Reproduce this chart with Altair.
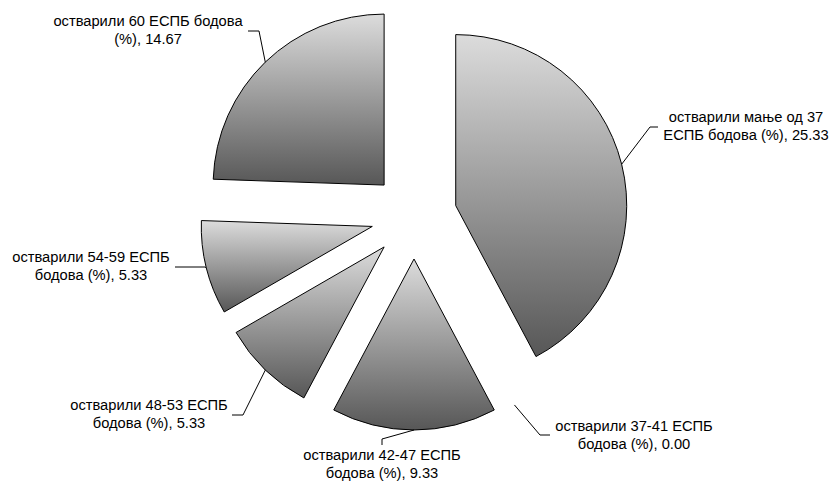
import altair as alt
import pandas as pd

# ---- data ----
categories = [
    "остварили мање од 37 ЕСПБ бодова (%)",
    "остварили 37-41 ЕСПБ бодова (%)",
    "остварили 42-47 ЕСПБ бодова (%)",
    "остварили 48-53 ЕСПБ бодова (%)",
    "остварили 54-59 ЕСПБ бодова (%)",
    "остварили 60 ЕСПБ бодова (%)",
]
values = [25.33, 0.00, 9.33, 5.33, 5.33, 14.67]

# ---- layout (plot-area pixels) ----
W, H = 822, 476
CX, CY = 406, 208
R = 171
EXPLODE = 43
wrap_words = [4, 3, 3, 3, 3, 4]
elbow_x = [642, 532, 374, 235, 197, 251]
elbow_y = [119, 427, 431, 407, 259, 23]
end_x = [650, 542, 374, 224, 167, 240]
end_y = [119, 427, 437, 407, 259, 23]
text_x = [738, 626, 374, 141, 83, 140]
text_y = [110, 419, 448, 398, 250, 14]

labels = []
for c, v, n in zip(categories, values, wrap_words):
    words = f"{c}, {v:.2f}".split(" ")
    labels.append(" ".join(words[:n]) + "\n" + " ".join(words[n:]))

df = pd.DataFrame({
    "order": list(range(len(values))),
    "category": categories,
    "value": values,
    "label": labels,
    "ex": elbow_x, "ey": elbow_y,
    "hx": end_x, "hy": end_y,
    "tx": text_x, "ty": text_y,
})

base = (
    alt.Chart(df)
    .transform_joinaggregate(total="sum(value)")
    .transform_window(cum="sum(value)", sort=[alt.SortField("order")], frame=[None, 0])
    .transform_calculate(
        a0="(datum.cum - datum.value) / datum.total * 2 * PI",
        a1="datum.cum / datum.total * 2 * PI",
    )
    .transform_calculate(mid="(datum.a0 + datum.a1) / 2")
    .transform_calculate(
        cx=f"{CX} + {EXPLODE} * sin(datum.mid)",
        cy=f"{CY} - {EXPLODE} * cos(datum.mid)",
        sx=f"{CX} + {EXPLODE + R} * sin(datum.mid)",
        sy=f"{CY} - {EXPLODE + R} * cos(datum.mid)",
    )
)

gradient = alt.Gradient(
    gradient="linear",
    stops=[
        alt.GradientStop(color="#dcdcdc", offset=0),
        alt.GradientStop(color="#575757", offset=1),
    ],
    x1=0, x2=0, y1=0, y2=1,
)

arcs = base.transform_filter("datum.value > 0").mark_arc(
    radius=R, fill=gradient, stroke="black", strokeWidth=1
).encode(
    theta=alt.Theta("a0:Q", scale=None),
    theta2="a1:Q",
    x=alt.X("cx:Q", scale=None, axis=None),
    y=alt.Y("cy:Q", scale=None, axis=None),
)

leader1 = base.mark_rule(color="black", strokeWidth=1).encode(
    x=alt.X("sx:Q", scale=None, axis=None),
    y=alt.Y("sy:Q", scale=None, axis=None),
    x2="ex:Q", y2="ey:Q",
)
leader2 = base.mark_rule(color="black", strokeWidth=1).encode(
    x=alt.X("ex:Q", scale=None, axis=None),
    y=alt.Y("ey:Q", scale=None, axis=None),
    x2="hx:Q", y2="hy:Q",
)

text = base.mark_text(
    align="center", baseline="middle", lineBreak="\n",
    font="Liberation Sans", fontSize=14.7, lineHeight=18, color="#000000",
).encode(
    x=alt.X("tx:Q", scale=None, axis=None),
    y=alt.Y("ty:Q", scale=None, axis=None),
    text="label:N",
)

chart = (
    alt.layer(arcs, leader1, leader2, text)
    .properties(width=W, height=H, autosize="none", padding=0)
    .configure_view(stroke=None)
)

chart.save("out.html", embed_options={"renderer": "svg", "actions": False})
